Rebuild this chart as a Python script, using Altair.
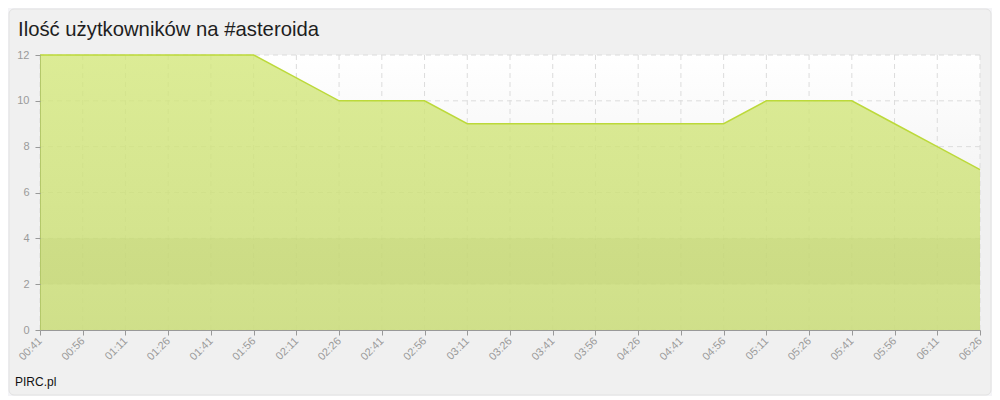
import altair as alt
import pandas as pd

times = ["00:41", "00:56", "01:11", "01:26", "01:41", "01:56", "02:11", "02:26",
         "02:41", "02:56", "03:11", "03:26", "03:41", "03:56", "04:26", "04:41",
         "04:56", "05:11", "05:26", "05:41", "05:56", "06:11", "06:26"]
users = [12, 12, 12, 12, 12, 12, 11, 10, 10, 10, 9, 9, 9, 9, 9, 9, 9, 10, 10, 10, 9, 8, 7]
y_ticks = [0, 2, 4, 6, 8, 10, 12]
title_text = "Ilość użytkowników na #asteroida"
credit_text = "PIRC.pl"

df = pd.DataFrame({"czas": times, "uzytkownicy": users})

W, H = 940, 275
FONT = "Liberation Sans"

x_scale = alt.Scale(type="point", padding=0, domain=times)
y_scale = alt.Scale(domain=[0, 12], nice=False)

x_axis = alt.Axis(title=None, labelAngle=-45, labelAlign="right",
                  labelBaseline="middle", labelFontSize=11, labelColor="#9a9a9a",
                  labelFont=FONT, labelPadding=4, tickSize=5, tickColor="#999999",
                  domainColor="#999999", grid=False, labelOverlap=False, zindex=1)
y_axis = alt.Axis(title=None, values=y_ticks, labelFontSize=11, labelColor="#9a9a9a",
                  labelFont=FONT, labelPadding=6, tickSize=5, tickColor="#999999",
                  domain=False, grid=False, zindex=1)

x_enc = alt.X("czas:N", sort=times, scale=x_scale, axis=x_axis)
y_enc = alt.Y("uzytkownicy:Q", scale=y_scale, axis=y_axis)

panel = alt.Chart(pd.DataFrame({"p": [0]})).mark_rect(
    fill="#f0f0f0", stroke="#e2e2e2", strokeWidth=1, cornerRadius=5
).encode(x=alt.value(-31), x2=alt.value(951), y=alt.value(-46), y2=alt.value(340))

plot_bg = alt.Chart(pd.DataFrame({"p": [0]})).mark_rect(
    color=alt.LinearGradient(gradient="linear", x1=0, y1=0, x2=0, y2=1,
                             stops=[alt.GradientStop(color="#ffffff", offset=0),
                                    alt.GradientStop(color="#e9e9e9", offset=1)])
).encode(x=alt.value(0), x2=alt.value(W), y=alt.value(0), y2=alt.value(H))

vgrid = alt.Chart(pd.DataFrame({"czas": times})).mark_rule(
    color="#dcdcdc", strokeDash=[5, 4], strokeWidth=1
).encode(x=alt.X("czas:N", sort=times, scale=x_scale, axis=x_axis))

hgrid = alt.Chart(pd.DataFrame({"uzytkownicy": y_ticks})).mark_rule(
    color="#dcdcdc", strokeDash=[5, 4], strokeWidth=1
).encode(y=alt.Y("uzytkownicy:Q", scale=y_scale, axis=y_axis))

area = alt.Chart(df).mark_area(
    color=alt.LinearGradient(gradient="linear", x1=0, y1=0, x2=0, y2=1,
                             stops=[alt.GradientStop(color="#d3e77b", offset=0),
                                    alt.GradientStop(color="#c9dd72", offset=1)]),
    opacity=0.8,
    line={"color": "#bcd93a", "strokeWidth": 1.5},
).encode(x=x_enc, y=y_enc)

band = alt.Chart(pd.DataFrame({"lo": [2], "uzytkownicy": [4]})).mark_rect(
    color="#6a7a10", opacity=0.05
).encode(x=alt.value(0), x2=alt.value(W),
         y=alt.Y("uzytkownicy:Q", scale=y_scale, axis=y_axis), y2="lo:Q")

left_edge = alt.Chart(pd.DataFrame({"p": [0]})).mark_rule(
    color="#b4c86a", strokeWidth=1
).encode(x=alt.value(0.5), y=alt.value(0), y2=alt.value(H))

title = alt.Chart(pd.DataFrame({"t": [title_text]})).mark_text(
    align="left", baseline="alphabetic", fontSize=20.3, font=FONT, color="#1e1e1e"
).encode(text="t:N", x=alt.value(-22), y=alt.value(-19))

credit = alt.Chart(pd.DataFrame({"t": [credit_text]})).mark_text(
    align="left", baseline="alphabetic", fontSize=12, font=FONT, color="#111111"
).encode(text="t:N", x=alt.value(-25), y=alt.value(331))

final = alt.layer(
    panel, plot_bg, vgrid, hgrid, area, band, left_edge, title, credit
).properties(
    width=W, height=H,
    padding={"left": 32, "top": 47, "right": 12, "bottom": 66},
    autosize=alt.AutoSizeParams(type="none"),
    background="#f4f4f7",
).configure_view(stroke=None)

final.save("out.html", embed_options={"renderer": "svg", "actions": False})
